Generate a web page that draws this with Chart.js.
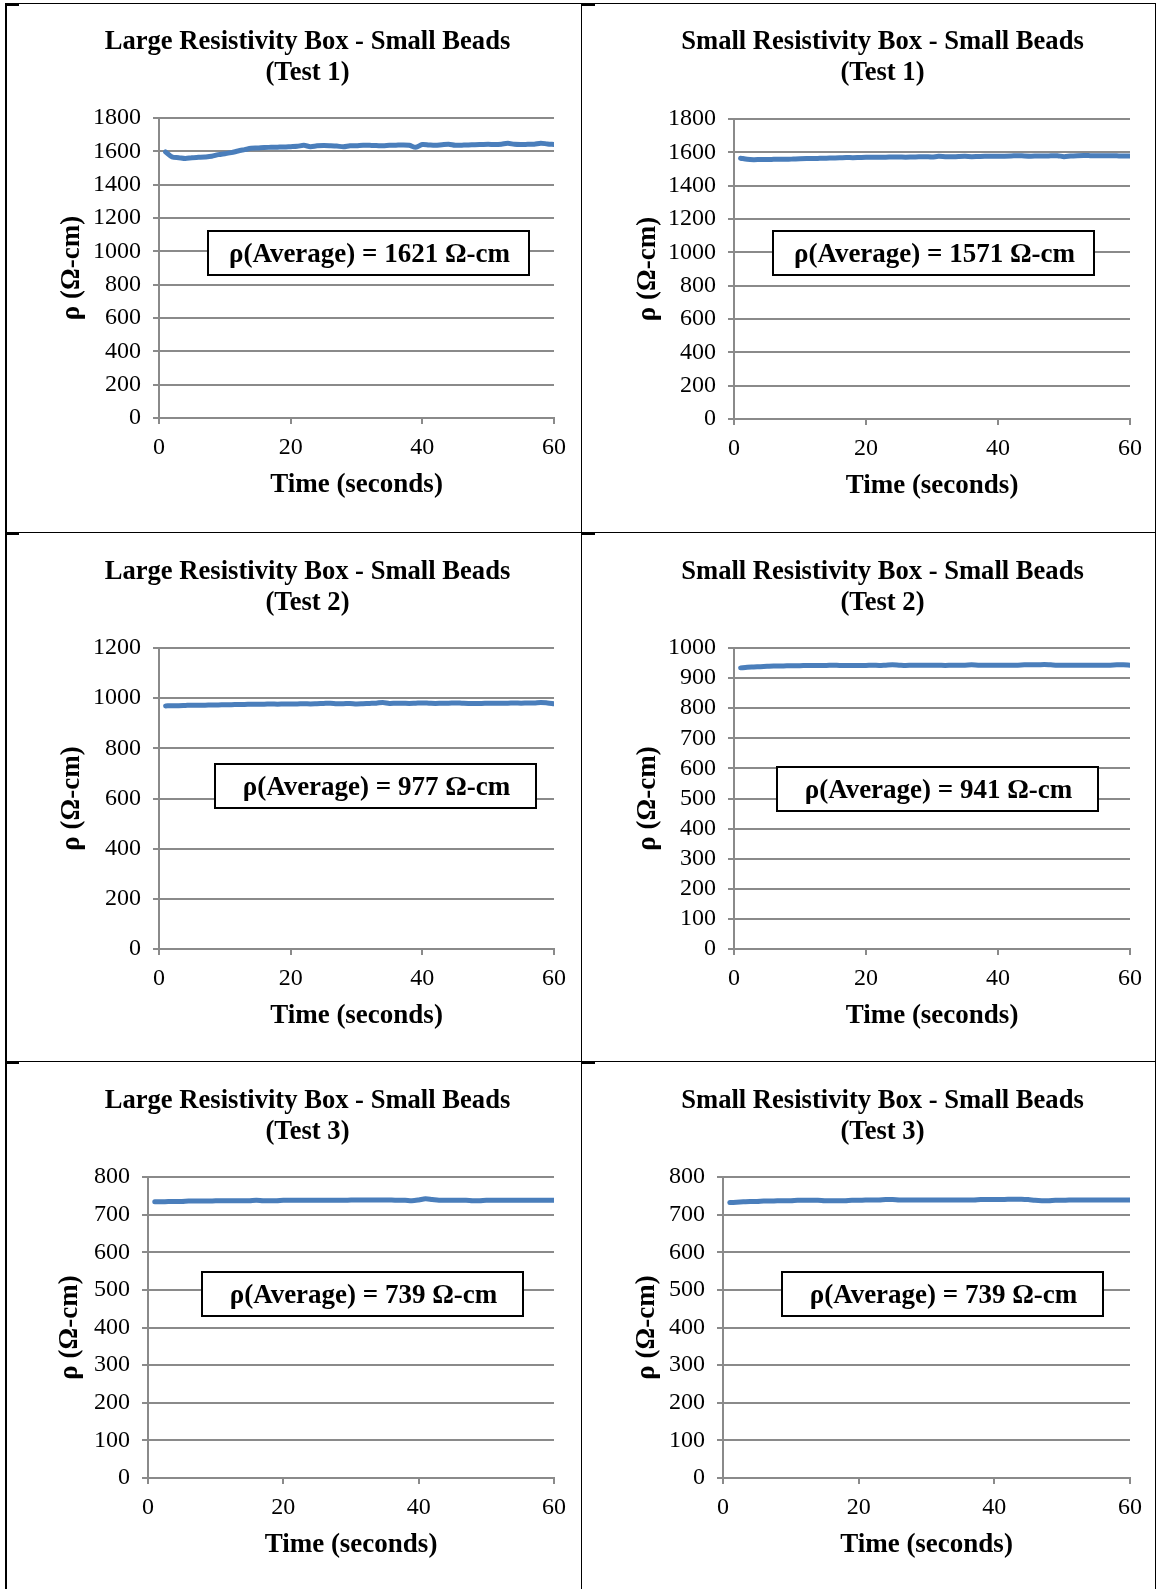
<!DOCTYPE html>
<html>
<head>
<meta charset="utf-8">
<script src="https://cdn.jsdelivr.net/npm/chart.js@4.4.1/dist/chart.umd.min.js"></script>
<style>
  html, body { margin: 0; padding: 0; background: #fff; }
  body { width: 1157px; height: 1589px; position: relative; overflow: hidden; }
  canvas { position: absolute; }
  .rule { position: absolute; background: #000; z-index: 2; }
</style>
</head>
<body>
<canvas id="c1"></canvas>
<canvas id="c2"></canvas>
<canvas id="c3"></canvas>
<canvas id="c4"></canvas>
<canvas id="c5"></canvas>
<canvas id="c6"></canvas>

<!-- table borders -->
<div class="rule" style="left:5px;top:3px;width:2px;height:1586px"></div>
<div class="rule" style="left:5px;top:3px;width:1151px;height:1px"></div>
<div class="rule" style="left:1155px;top:3px;width:1px;height:1586px"></div>
<div class="rule" style="left:581px;top:3px;width:1px;height:1586px"></div>
<div class="rule" style="left:5px;top:532px;width:1151px;height:1px"></div>
<div class="rule" style="left:5px;top:1061px;width:1151px;height:1px"></div>
<div class="rule" style="left:5px;top:3px;width:14px;height:3px"></div>
<div class="rule" style="left:581px;top:3px;width:14px;height:3px"></div>
<div class="rule" style="left:5px;top:532px;width:14px;height:3px"></div>
<div class="rule" style="left:581px;top:532px;width:14px;height:3px"></div>
<div class="rule" style="left:5px;top:1061px;width:14px;height:3px"></div>
<div class="rule" style="left:581px;top:1061px;width:14px;height:3px"></div>

<script>
// Time axis (seconds)
const seconds = [1, 2, 3, 4, 5, 6, 7, 8, 9, 10, 11, 12, 13, 14, 15, 16, 17, 18, 19, 20,
                 21, 22, 23, 24, 25, 26, 27, 28, 29, 30, 31, 32, 33, 34, 35, 36, 37, 38, 39, 40,
                 41, 42, 43, 44, 45, 46, 47, 48, 49, 50, 51, 52, 53, 54, 55, 56, 57, 58, 59, 60];
const xTicks = [0, 20, 40, 60];

// Resistivity readings, Ω-cm
const largeTest1 = [1596, 1566, 1562, 1557, 1562, 1564, 1566, 1570, 1580, 1586, 1592, 1602, 1610, 1618, 1620,
                    1623, 1624, 1625, 1626, 1628, 1630, 1636, 1628, 1633, 1635, 1634, 1632, 1627, 1633, 1634,
                    1637, 1636, 1635, 1633, 1636, 1637, 1638, 1636, 1624, 1641, 1638, 1636, 1640, 1643, 1636,
                    1637, 1638, 1640, 1641, 1642, 1641, 1643, 1648, 1642, 1641, 1642, 1643, 1649, 1644, 1641];
const smallTest1 = [1565, 1558, 1556, 1557, 1557, 1558, 1559, 1558, 1560, 1562, 1563, 1563, 1564, 1565, 1566,
                    1567, 1569, 1568, 1569, 1570, 1570, 1571, 1571, 1572, 1572, 1571, 1572, 1573, 1574, 1572,
                    1576, 1574, 1573, 1575, 1576, 1574, 1575, 1576, 1576, 1577, 1577, 1578, 1580, 1578, 1577,
                    1578, 1578, 1579, 1580, 1574, 1578, 1580, 1581, 1580, 1579, 1580, 1580, 1579, 1578, 1578];
const largeTest2 = [969, 970, 970, 971, 972, 972, 972, 973, 973, 974, 974, 975, 975, 976, 976,
                    976, 977, 976, 977, 977, 977, 978, 977, 978, 979, 980, 978, 978, 979, 977,
                    978, 979, 980, 983, 979, 980, 980, 979, 980, 981, 980, 979, 980, 980, 981,
                    980, 979, 979, 979, 980, 980, 980, 980, 981, 980, 981, 981, 983, 981, 978];
const smallTest2 = [934, 936, 937, 938, 939, 940, 940, 941, 941, 941, 942, 942, 942, 942, 943,
                    942, 942, 942, 942, 942, 943, 942, 943, 944, 943, 942, 943, 943, 943, 943,
                    943, 942, 943, 943, 943, 944, 943, 943, 943, 943, 943, 943, 943, 944, 944,
                    944, 945, 944, 943, 943, 943, 943, 943, 943, 943, 943, 943, 944, 944, 943];
const largeTest3 = [734, 734, 735, 735, 735, 736, 736, 736, 736, 737, 737, 737, 737, 737, 737,
                    738, 737, 737, 737, 738, 738, 738, 738, 738, 738, 738, 738, 738, 738, 739,
                    739, 739, 739, 739, 739, 739, 738, 738, 737, 739, 742, 740, 738, 738, 738,
                    738, 738, 737, 737, 738, 738, 738, 738, 738, 738, 738, 738, 738, 738, 738];
const smallTest3 = [732, 733, 734, 735, 735, 736, 736, 737, 737, 737, 738, 738, 738, 738, 737,
                    737, 737, 737, 738, 738, 739, 739, 739, 740, 740, 739, 739, 739, 739, 739,
                    739, 739, 739, 739, 739, 739, 739, 740, 740, 740, 740, 741, 741, 741, 740,
                    738, 737, 737, 738, 738, 739, 739, 739, 739, 739, 739, 739, 739, 739, 739];

const chartTitles = [
    ['Large Resistivity Box - Small Beads', '(Test 1)'],
    ['Small Resistivity Box - Small Beads', '(Test 1)'],
    ['Large Resistivity Box - Small Beads', '(Test 2)'],
    ['Small Resistivity Box - Small Beads', '(Test 2)'],
    ['Large Resistivity Box - Small Beads', '(Test 3)'],
    ['Small Resistivity Box - Small Beads', '(Test 3)']
];
const averages = [1621, 1571, 977, 941, 739, 739];
const yMax = [1800, 1800, 1200, 1000, 800, 800];
const yStep = [200, 200, 200, 100, 100, 100];
const series = [largeTest1, smallTest1, largeTest2, smallTest2, largeTest3, smallTest3];

// Page placement of each chart (canvas box, plot area, text anchors)
const layout = [
    {id: 'c1', cx: 0,   cy: 0,    cw: 581, ch: 532, L: 159, R: 554,  T: 118,  B: 418,  titleX: 307.5, titleY: 42.5,   yTitleX: 72,  xTitleY: 485.5, box: [49, 113]},
    {id: 'c2', cx: 581, cy: 0,    cw: 576, ch: 532, L: 734, R: 1130, T: 119,  B: 419,  titleX: 882.5, titleY: 42.5,   yTitleX: 648, xTitleY: 486,   box: [39, 112]},
    {id: 'c3', cx: 0,   cy: 532,  cw: 581, ch: 529, L: 159, R: 554,  T: 648,  B: 949,  titleX: 307.5, titleY: 572.5,  yTitleX: 72,  xTitleY: 1016,  box: [56, 116]},
    {id: 'c4', cx: 581, cy: 532,  cw: 576, ch: 529, L: 734, R: 1130, T: 648,  B: 949,  titleX: 882.5, titleY: 572.5,  yTitleX: 648, xTitleY: 1016,  box: [43, 119]},
    {id: 'c5', cx: 0,   cy: 1061, cw: 581, ch: 528, L: 148, R: 554,  T: 1177, B: 1478, titleX: 307.5, titleY: 1101.5, yTitleX: 70,  xTitleY: 1545,  box: [54, 95]},
    {id: 'c6', cx: 581, cy: 1061, cw: 576, ch: 528, L: 723, R: 1130, T: 1177, B: 1478, titleX: 882.5, titleY: 1101.5, yTitleX: 647, xTitleY: 1545,  box: [59, 95]}
];

const BLUE = '#4a7ebb';
const GRID = '#8a8a8a';
const FONT = '"Liberation Serif", "Times New Roman", serif';
const BOLD_SIZE = 26.6;
const TITLE_LH = 1.15;

// Text box with the average value, placed relative to the plot area
const avgBox = {
    id: 'avgBox',
    afterDraw(chart, args, opts) {
        const {ctx, chartArea} = chart;
        const x = chartArea.left + opts.dx;
        const y = chartArea.top + opts.dy;
        ctx.save();
        ctx.fillStyle = '#fff';
        ctx.fillRect(x, y, opts.w, opts.h);
        ctx.lineWidth = 2;
        ctx.strokeStyle = '#000';
        ctx.strokeRect(x, y, opts.w, opts.h);
        ctx.fillStyle = '#000';
        ctx.font = 'bold 27px ' + FONT;
        ctx.textAlign = 'center';
        ctx.textBaseline = 'middle';
        ctx.fillText(opts.text, x + opts.w / 2 + 1, y + opts.h / 2 + 2);
        ctx.restore();
    }
};

layout.forEach((p, i) => {
    const canvas = document.getElementById(p.id);
    canvas.width = p.cw;
    canvas.height = p.ch;
    canvas.style.left = p.cx + 'px';
    canvas.style.top = p.cy + 'px';
    canvas.style.width = p.cw + 'px';
    canvas.style.height = p.ch + 'px';

    // work the layout padding backwards from the wanted plot area
    const lh = BOLD_SIZE * TITLE_LH;
    const half = BOLD_SIZE / 2;
    const boxLeft = 2 * p.titleX - p.R;
    const padLeft = boxLeft - p.cx;
    const padRight = p.cx + p.cw - p.R;
    const yWidth = p.L - boxLeft;
    const xHeight = p.cy + p.ch - p.B;
    const titleTop = p.titleY - p.cy - lh / 2;
    const titleBottom = (p.T - p.cy) - titleTop - 2 * lh;

    const points = seconds.map((s, k) => ({x: s, y: series[i][k]}));

    new Chart(canvas, {
        type: 'line',
        data: {
            datasets: [{
                data: points,
                borderColor: BLUE,
                borderWidth: 5,
                borderCapStyle: 'round',
                borderJoinStyle: 'round',
                pointRadius: 0,
                tension: 0.3,
                fill: false
            }]
        },
        options: {
            responsive: false,
            animation: false,
            devicePixelRatio: 1,
            layout: {padding: {left: padLeft, right: padRight, top: 0, bottom: 0}},
            plugins: {
                legend: {display: false},
                tooltip: {enabled: false},
                title: {
                    display: true,
                    text: chartTitles[i],
                    color: '#000',
                    font: {family: FONT, size: BOLD_SIZE, weight: 'bold', lineHeight: TITLE_LH},
                    padding: {top: titleTop, bottom: titleBottom}
                },
                avgBox: {
                    text: 'ρ(Average) = ' + averages[i] + ' Ω-cm',
                    dx: p.box[0], dy: p.box[1], w: 321, h: 44
                }
            },
            scales: {
                x: {
                    type: 'linear',
                    min: 0,
                    max: 60,
                    afterBuildTicks: (scale) => { scale.ticks = xTicks.map(v => ({value: v})); },
                    afterFit: (scale) => { scale.height = xHeight; },
                    grid: {drawOnChartArea: false, drawTicks: true, tickLength: 6, color: GRID, lineWidth: 2},
                    border: {color: GRID, width: 2},
                    ticks: {
                        color: '#000', padding: 9, maxRotation: 0,
                        callback: (v) => String(v),
                        font: {family: FONT, size: 24, lineHeight: 1.2}
                    },
                    title: {
                        display: true,
                        text: 'Time (seconds)',
                        color: '#000',
                        font: {family: FONT, size: 27, weight: 'bold', lineHeight: 1},
                        padding: {top: 0, bottom: p.cy + p.ch - p.xTitleY - half}
                    }
                },
                y: {
                    min: 0,
                    max: yMax[i],
                    afterFit: (scale) => { scale.width = yWidth; },
                    grid: {color: GRID, lineWidth: 2, drawTicks: true, tickLength: 6},
                    border: {color: GRID, width: 2},
                    ticks: {
                        stepSize: yStep[i], autoSkip: false, color: '#000', padding: 12,
                        callback: (v) => String(v),
                        font: {family: FONT, size: 24}
                    },
                    title: {
                        display: true,
                        text: 'ρ (Ω-cm)',
                        color: '#000',
                        font: {family: FONT, size: 27, weight: 'bold', lineHeight: 1},
                        padding: {top: p.yTitleX - boxLeft - half, bottom: 0}
                    }
                }
            }
        },
        plugins: [avgBox]
    });
});
</script>
</body>
</html>
